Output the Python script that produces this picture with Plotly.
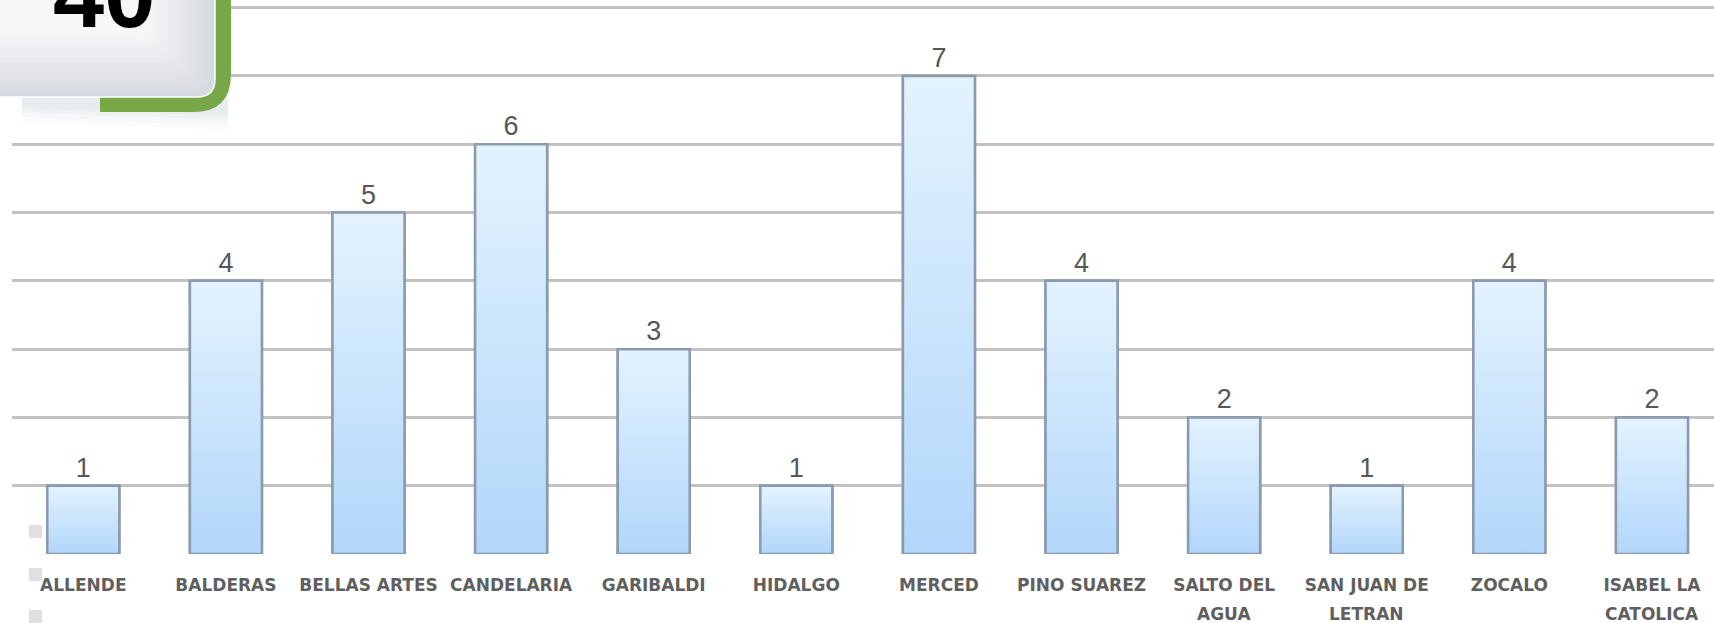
import plotly.graph_objects as go

# ---------------- data ----------------
categories = ["ALLENDE", "BALDERAS", "BELLAS ARTES", "CANDELARIA", "GARIBALDI",
              "HIDALGO", "MERCED", "PINO SUAREZ", "SALTO DEL AGUA",
              "SAN JUAN DE LETRAN", "ZOCALO", "ISABEL LA CATOLICA"]
values = [1, 4, 5, 6, 3, 1, 7, 4, 2, 1, 4, 2]
tick_line1 = ["ALLENDE", "BALDERAS", "BELLAS ARTES", "CANDELARIA", "GARIBALDI",
              "HIDALGO", "MERCED", "PINO SUAREZ", "SALTO DEL",
              "SAN JUAN DE", "ZOCALO", "ISABEL LA"]
tick_line2 = ["", "", "", "", "", "", "", "", "AGUA", "LETRAN", "", "CATOLICA"]
y_grid = [1, 2, 3, 4, 5, 6, 7, 8]
badge_text = "40"

# ---------------- geometry / style ----------------
W, H = 1714, 623
ML, MR, MT, MB = 12, 0, 4, 69
Y_MAX = 8.054
BAR_W = 0.505
X_MAX = 11.435
OUTLINE = "#8a9aaf"
BAR_TOP = "#e3f3fe"
BAR_BOT = "#b2d6fa"
TXT = "#575757"
LBL = "#5f5f5f"

xs = list(range(len(categories)))

fig = go.Figure()

# base bars (also carry data labels)
fig.add_trace(go.Bar(
    x=xs, y=values, width=BAR_W,
    marker=dict(color="#cbe4fc", line=dict(color=OUTLINE, width=2.5)),
    text=[str(v) for v in values], textposition="outside",
    textfont=dict(family="Liberation Sans, Arial", size=27, color=TXT),
    cliponaxis=False, hovertext=categories, hoverinfo="text+y",
    showlegend=False,
))

# gradient-filled overlay for each bar, computed from the data through the axes
for xi, v in zip(xs, values):
    x0, x1 = xi - BAR_W / 2, xi + BAR_W / 2
    fig.add_trace(go.Scatter(
        x=[x0, x0, x1, x1, x0], y=[0, v, v, 0, 0],
        mode="lines", fill="toself",
        fillgradient=dict(type="vertical",
                          colorscale=[[0, BAR_BOT], [1, BAR_TOP]]),
        line=dict(color=OUTLINE, width=2.5),
        hoverinfo="skip", showlegend=False,
    ))

# second lines of two-line category labels
annotations = []
for xi, t in zip(xs, tick_line2):
    if t:
        annotations.append(dict(
            x=xi, xref="x", y=0, yref="paper", yanchor="middle",
            yshift=-60, text=t, showarrow=False,
            font=dict(family="DejaVu Sans", size=17, color=LBL, weight="bold"),
        ))

# ---------------- badge in top-left (decorative) ----------------
pw = W - ML - MR
ph = H - MT - MB


def px(x):
    return (x - ML) / pw


def py(y):
    return (H - MB - y) / ph


def P(x, y):
    return f"{px(x):.5f},{py(y):.5f}"


def mix(c1, c2, t):
    a = [int(c1[i:i + 2], 16) for i in (1, 3, 5)]
    b = [int(c2[i:i + 2], 16) for i in (1, 3, 5)]
    return "#" + "".join(f"{round(a[i] + (b[i] - a[i]) * t):02x}" for i in range(3))


shapes = []
# soft shadow
for a, o in [(0.03, 18), (0.035, 13), (0.045, 8), (0.05, 4)]:
    shapes.append(dict(
        type="path", xref="paper", yref="paper", layer="above",
        path=f"M{P(22, 60)} L{P(228, 60)} L{P(228, 112 + o)} L{P(22, 104 + o)} Z",
        fillcolor=f"rgba(110,140,150,{a})", line=dict(width=0)))
# green box
R = 38
shapes.append(dict(
    type="path", xref="paper", yref="paper", layer="above",
    path=(f"M{P(100, -10)} L{P(231, -10)} L{P(231, 112 - R)} "
          f"Q{P(231, 112)} {P(231 - R, 112)} L{P(100, 112)} Z"),
    fillcolor="#78a748", line=dict(width=0)))
# white/grey card (stacked layers for a soft diagonal gradient)
r = 18
n_layers = 14
for k in range(n_layers):
    t = k / (n_layers - 1)
    d = 70 * t
    rr = max(r - d * 0.2, 6)
    right, bottom = 215 - d, 97 - d * 0.9
    c = mix("#d7dae0", "#f7f7f8", t)
    shapes.append(dict(
        type="path", xref="paper", yref="paper", layer="above",
        path=(f"M{P(-10, -10)} L{P(right, -10)} L{P(right, bottom - rr)} "
              f"Q{P(right, bottom)} {P(right - rr, bottom)} L{P(-10, bottom)} Z"),
        fillcolor=c,
        line=(dict(color="#ffffff", width=1.5) if k == 0 else dict(width=0))))
# little grey squares at lower left
for y0 in (525, 568, 610):
    shapes.append(dict(
        type="rect", xref="paper", yref="paper", layer="above",
        x0=px(29), x1=px(42), y0=py(y0 + 13), y1=py(y0),
        fillcolor="#e0e0e0", line=dict(width=0)))

annotations.append(dict(
    x=px(104), xref="paper", y=py(-5), yref="paper",
    xanchor="center", yanchor="middle", text=f"<b>{badge_text}</b>",
    showarrow=False,
    font=dict(family="Liberation Sans, Arial", size=92, color="#000000")))

fig.update_layout(
    width=W, height=H,
    margin=dict(l=ML, r=MR, t=MT, b=MB, pad=0),
    paper_bgcolor="#ffffff", plot_bgcolor="#ffffff",
    showlegend=False,
    shapes=shapes, annotations=annotations,
    xaxis=dict(
        range=[-0.5, X_MAX], tickvals=xs, ticktext=tick_line1,
        showgrid=False, zeroline=False, showline=False, ticks="",
        ticklabelstandoff=19,
        tickfont=dict(family="DejaVu Sans", size=17, color=LBL, weight="bold"),
        fixedrange=True,
    ),
    yaxis=dict(
        range=[0, Y_MAX], tickvals=y_grid, showticklabels=False,
        showgrid=True, gridcolor="#c2c2c2", gridwidth=3,
        zeroline=False, showline=False, ticks="", fixedrange=True,
    ),
)

fig.write_html("out.html",
               config={"displayModeBar": False},
               post_script="document.body.style.margin='0px';"
                           "document.body.style.overflow='hidden';")
